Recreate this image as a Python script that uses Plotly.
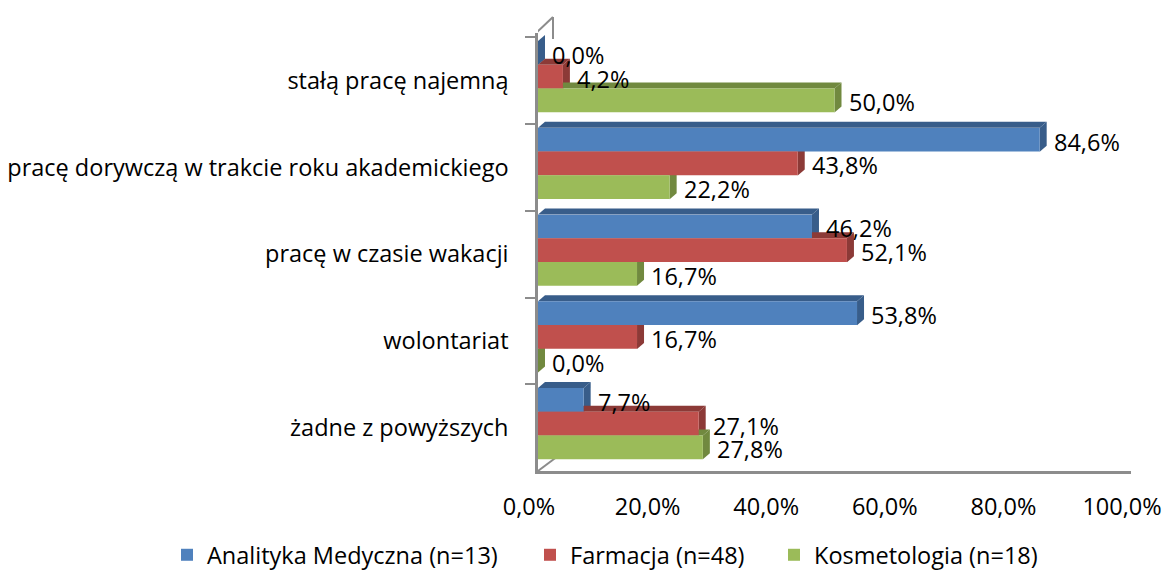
import plotly.graph_objects as go

# ---------------- data ----------------
categories = [
    "stałą pracę najemną",
    "pracę dorywczą w trakcie roku akademickiego",
    "pracę w czasie wakacji",
    "wolontariat",
    "żadne z powyższych",
]
series_names = ["Analityka Medyczna (n=13)", "Farmacja (n=48)", "Kosmetologia (n=18)"]
analityka = [0.0, 84.6, 46.2, 53.8, 7.7]
farmacja = [4.2, 43.8, 52.1, 16.7, 27.1]
kosmetologia = [50.0, 22.2, 16.7, 0.0, 27.8]
x_tick_vals = [0, 20, 40, 60, 80, 100]
x_tick_text = ["0,0%", "20,0%", "40,0%", "60,0%", "80,0%", "100,0%"]

# ---------------- style ----------------
front_colors = ["#4F81BD", "#C0504D", "#9BBB59"]
side_colors = ["#385D8A", "#8C3A37", "#71893F"]
legend_text_x = [207, 570, 814]   # pixel x where each legend text starts
FONT = "Open Sans"
FS = 23.5
W, H = 1164, 574
L, R, T, B = 538, 33, 33, 103
PLOT_W = W - L - R
PLOT_H = H - T - B
BARGAP = 0.18
NS = 3
BW = (1 - BARGAP) / NS
PPX = PLOT_W / 100.0
BAND = PLOT_H / len(categories)
HH = BAND * BW / 2
SHIFT_UP = 4 / BAND          # bars sit slightly above band centre (3D depth)
DX, DY = 7, 6
AXC = "#8C8C8C"

series = [analityka, farmacja, kosmetologia]
legend_ids = ["legend", "legend2", "legend3"]

fig = go.Figure()
shapes = []
annotations = []
for k, (name, vals) in enumerate(zip(series_names, series)):
    off_start = -(1 - BARGAP) / 2 + k * BW - SHIFT_UP
    fig.add_trace(go.Bar(
        name=name, y=categories, x=vals, orientation="h",
        offset=off_start, width=BW,
        marker=dict(color=front_colors[k], line=dict(width=0)),
        hoverinfo="x+y", legend=legend_ids[k],
    ))
    for i, v in enumerate(vals):
        yc = i + off_start + BW / 2
        # right side face
        shapes.append(dict(
            type="path", layer="below",
            xref="x", yref="y", xsizemode="pixel", ysizemode="pixel",
            xanchor=v, yanchor=yc,
            path=f"M 0,{-HH} L {DX},{-HH + DY} L {DX},{HH + DY} L 0,{HH} Z",
            fillcolor=side_colors[k], line=dict(width=0),
        ))
        # top face
        x0 = -v * PPX
        shapes.append(dict(
            type="path", layer="below",
            xref="x", yref="y", xsizemode="pixel", ysizemode="pixel",
            xanchor=v, yanchor=yc,
            path=f"M {x0},{HH} L {x0 + DX},{HH + DY} L {DX},{HH + DY} L 0,{HH} Z",
            fillcolor=side_colors[k], line=dict(width=0),
        ))
        annotations.append(dict(
            x=v, y=yc, xref="x", yref="y",
            text=f"{v:.1f}%".replace(".", ","),
            showarrow=False, xanchor="left", yanchor="middle",
            xshift=DX + 5, yshift=-2,
            font=dict(family=FONT, size=FS, color="#000000"),
        ))

# 3D wall / floor decorations
shapes.append(dict(type="line", layer="below", xref="x", yref="y domain",
                   xsizemode="pixel", ysizemode="pixel", xanchor=0, yanchor=1,
                   x0=-2, y0=0, x1=15, y1=16, line=dict(color=AXC, width=2)))
shapes.append(dict(type="line", layer="below", xref="x", yref="y domain",
                   xsizemode="pixel", ysizemode="pixel", xanchor=0, yanchor=1,
                   x0=15, y0=16, x1=15, y1=-6, line=dict(color=AXC, width=2)))
shapes.append(dict(type="line", layer="below", xref="x", yref="y domain",
                   xsizemode="pixel", ysizemode="pixel", xanchor=0, yanchor=0,
                   x0=0, y0=0, x1=24, y1=18, line=dict(color=AXC, width=2)))

legend_common = dict(
    orientation="h", xref="container", yref="container",
    y=1 - 555 / H, xanchor="left", yanchor="middle",
    font=dict(family=FONT, size=FS, color="#000000"),
    itemwidth=30, bgcolor="rgba(0,0,0,0)", borderwidth=0,
)
legends = {}
for k, lid in enumerate(legend_ids):
    d = dict(legend_common)
    d["x"] = (legend_text_x[k] - 40) / W
    legends[lid] = d

fig.update_layout(
    width=W, height=H,
    margin=dict(l=L, r=R, t=T, b=B, pad=0, autoexpand=False),
    barmode="group", bargap=BARGAP, bargroupgap=0,
    paper_bgcolor="white", plot_bgcolor="rgba(0,0,0,0)",
    font=dict(family=FONT, size=FS, color="#000000"),
    shapes=shapes, annotations=annotations,
    showlegend=True,
    **legends,
    xaxis=dict(
        range=[0, 100], tickvals=x_tick_vals, ticktext=x_tick_text,
        showgrid=False, zeroline=False, showline=True,
        linecolor=AXC, linewidth=2.5, ticks="",
        ticklabelstandoff=13, ticklabelshift=-9,
        tickfont=dict(family=FONT, size=FS),
        fixedrange=True,
    ),
    yaxis=dict(
        type="category", autorange="reversed",
        showgrid=False, zeroline=False, showline=True,
        linecolor=AXC, linewidth=2.5,
        ticks="outside", tickson="boundaries", ticklen=10,
        tickcolor=AXC, tickwidth=2,
        ticklabelstandoff=22,
        tickfont=dict(family=FONT, size=FS),
        fixedrange=True,
    ),
)

fig.write_html(
    "out.html",
    config={"displayModeBar": False},
    post_script="document.body.style.margin='0';document.body.style.padding='0';",
)
